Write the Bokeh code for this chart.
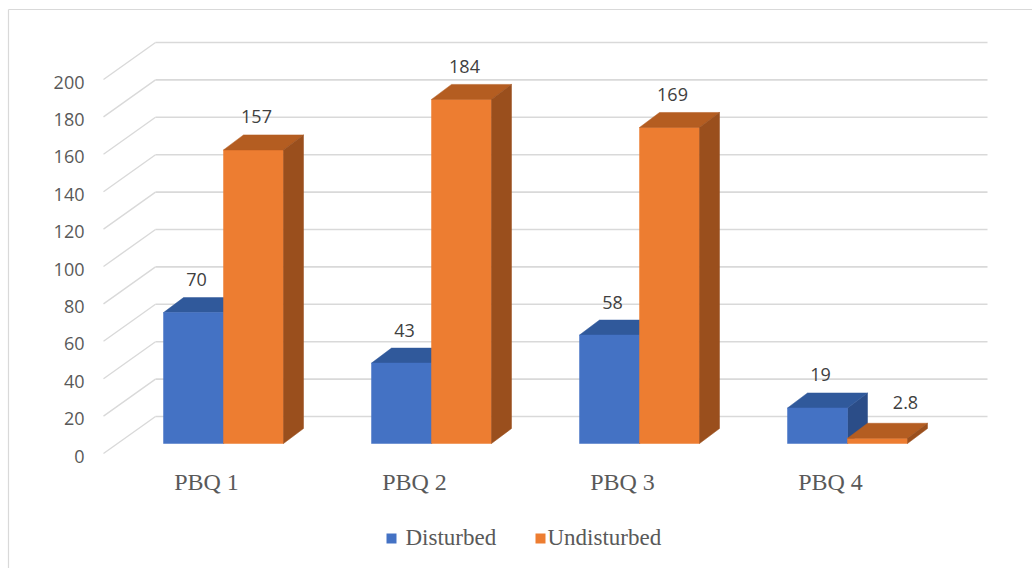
from bokeh.plotting import figure
from bokeh.models import Range1d
from bokeh.core.properties import value
from bokeh.embed import file_html
from bokeh.resources import INLINE

# ---------------- data ----------------
categories = ["PBQ 1", "PBQ 2", "PBQ 3", "PBQ 4"]
series_names = ["Disturbed", "Undisturbed"]
disturbed = [70, 43, 58, 19]
undisturbed = [157, 184, 169, 2.8]
disturbed_labels = ["70", "43", "58", "19"]
undisturbed_labels = ["157", "184", "169", "2.8"]
y_ticks = [0, 20, 40, 60, 80, 100, 120, 140, 160, 180, 200]

# ---------------- layout / style constants ----------------
W, H = 1032, 568
PX_PER_CAT = 208.0      # pixels between category groups
PX_PER_VAL = 1.87       # pixels per value unit
ORIGIN_X_PX = 223.0     # pixel x of first group centre
ORIGIN_Y_PX = 443.0     # pixel y of value 0 on bar fronts

X0 = -ORIGIN_X_PX / PX_PER_CAT
X1 = X0 + W / PX_PER_CAT
Y1 = ORIGIN_Y_PX / PX_PER_VAL
Y0 = Y1 - H / PX_PER_VAL


def dx(px):
    return px / PX_PER_CAT


def dy(px):
    return px / PX_PER_VAL


def X(px):
    return X0 + px / PX_PER_CAT


def Y(px):
    return Y1 - px / PX_PER_VAL


BAR_W = dx(60)
DEP_X = dx(20)
DEP_Y = dy(15)

GRID = "#d9d9d9"
TXT = "#595959"
LBL = "#404040"
COLORS = {
    "Disturbed": ("#4472c4", "#30599b", "#2b4d88"),
    "Undisturbed": ("#ed7d31", "#b45d21", "#9a4f1d"),
}

p = figure(width=W, height=H, output_backend="svg", toolbar_location=None,
           x_range=Range1d(X0, X1), y_range=Range1d(Y0, Y1),
           x_axis_location=None, y_axis_location=None, min_border=0,
           title=None)
p.grid.visible = False
p.outline_line_color = None
p.background_fill_color = "white"
p.border_fill_color = "white"

# chart border (top and left)
p.segment(x0=[X(8)], y0=[Y(9)], x1=[X(1032)], y1=[Y(9)], line_color=GRID, line_width=1.2)
p.segment(x0=[X(8)], y0=[Y(9)], x1=[X(8)], y1=[Y(568)], line_color=GRID, line_width=1.2)

# back wall gridlines + floor diagonals
back_y = [v + dy(27) for v in y_ticks]
p.segment(x0=[X(155)] * len(y_ticks), y0=back_y, x1=[X(987)] * len(y_ticks), y1=back_y,
          line_color=GRID, line_width=1.6)
p.segment(x0=[X(103)] * len(y_ticks), y0=[v - dy(10) for v in y_ticks],
          x1=[X(155)] * len(y_ticks), y1=back_y, line_color=GRID, line_width=1.4)

# y tick labels
p.text(x=[X(84)] * len(y_ticks), y=[v - dy(12.5) for v in y_ticks],
       text=[str(v) for v in y_ticks], text_align="right", text_baseline="middle",
       text_font=value("Open Sans"), text_font_size="18px", text_color=TXT)


def draw_series(vals, offset, name):
    front, top, side = COLORS[name]
    lefts = [i + offset for i in range(len(vals))]
    rights = [l + BAR_W for l in lefts]
    side_xs = [[r, r + DEP_X, r + DEP_X, r] for r in rights]
    side_ys = [[0, DEP_Y, v + DEP_Y, v] for v in vals]
    top_xs = [[l, l + DEP_X, r + DEP_X, r] for l, r in zip(lefts, rights)]
    top_ys = [[v, v + DEP_Y, v + DEP_Y, v] for v in vals]
    return (lambda: p.patches(side_xs, side_ys, fill_color=side, line_color=side, line_width=0.5),
            lambda: p.patches(top_xs, top_ys, fill_color=top, line_color=top, line_width=0.5),
            lambda: p.quad(left=lefts, right=rights, bottom=[0] * len(vals), top=vals,
                           fill_color=front, line_color=front, line_width=0.5))


b_side, b_top, b_front = draw_series(disturbed, -BAR_W, "Disturbed")
o_side, o_top, o_front = draw_series(undisturbed, 0.0, "Undisturbed")
b_side(); b_top(); b_front()
o_front(); o_top(); o_side()


# data labels: centred above the bar top; very short bars get the label
# pushed to the right of the top face (as the spreadsheet renderer does)
def label_x(i, offset, v):
    shift = dx(28) if v < 10 else dx(3)
    return i + offset + BAR_W / 2 + shift


def label_y(v):
    return v + (dy(36) if v < 10 else dy(33))


n = len(categories)
p.text(x=[label_x(i, -BAR_W, v) for i, v in enumerate(disturbed)],
       y=[label_y(v) for v in disturbed],
       text=disturbed_labels, text_align="center", text_baseline="middle",
       text_font=value("Open Sans"), text_font_size="18px", text_color=LBL)
p.text(x=[label_x(i, 0.0, v) for i, v in enumerate(undisturbed)],
       y=[label_y(v) for v in undisturbed],
       text=undisturbed_labels, text_align="center", text_baseline="middle",
       text_font=value("Open Sans"), text_font_size="18px", text_color=LBL)

# category labels
p.text(x=[i - dx(17) for i in range(n)], y=[Y(481)] * n, text=categories,
       text_align="center", text_baseline="middle",
       text_font=value("Liberation Serif"), text_font_size="24px", text_color=TXT)

# legend
p.rect(x=[X(391), X(540)], y=[Y(538)] * 2, width=dx(10), height=dy(10),
       fill_color=[COLORS[s][0] for s in series_names], line_color=None)
p.text(x=[X(405), X(547)], y=[Y(537)] * 2, text=series_names,
       text_align="left", text_baseline="middle",
       text_font=value("Liberation Serif"), text_font_size="23px", text_color=TXT)

open("out.html", "w").write(file_html(p, INLINE))
